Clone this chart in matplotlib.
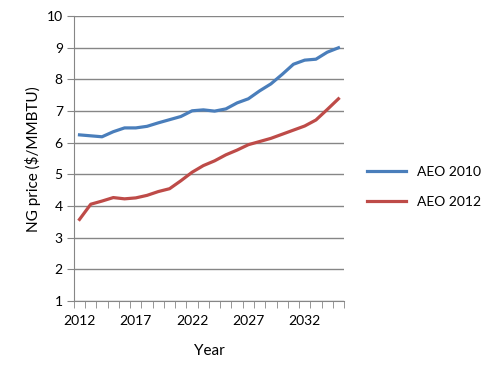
import matplotlib
matplotlib.use("Agg")
import matplotlib.pyplot as plt
import numpy as np

# Data
years = list(range(2012, 2036))
aeo_2010 = [6.25, 6.22, 6.19, 6.35, 6.47, 6.47, 6.52, 6.63, 6.73, 6.83, 7.01, 7.04,
            7.00, 7.07, 7.26, 7.39, 7.64, 7.86, 8.16, 8.48, 8.61, 8.64, 8.86, 9.00]
aeo_2012 = [3.58, 4.06, 4.16, 4.27, 4.23, 4.26, 4.34, 4.46, 4.55, 4.80, 5.07, 5.28,
            5.43, 5.62, 5.77, 5.94, 6.04, 6.14, 6.27, 6.40, 6.53, 6.72, 7.05, 7.39]
label_years = [2012, 2017, 2022, 2027, 2032]

plt.rcParams['font.family'] = ['Lato', 'DejaVu Sans']

fig = plt.figure(figsize=(4.86, 3.75), dpi=100)
ax = fig.add_axes([0.152, 0.197, 0.556, 0.76])

x = np.arange(len(years))
ax.plot(x, aeo_2010, color='#4A7EBB', linewidth=2.3, label='AEO 2010')
ax.plot(x, aeo_2012, color='#BE4B48', linewidth=2.3, label='AEO 2012')

ax.set_xlim(-0.5, len(years) - 0.5)
ax.set_ylim(1, 10)
ax.set_yticks(range(1, 11))
ax.yaxis.grid(True, color='#868686', linewidth=1)
ax.set_axisbelow(True)

ax.set_xticks([years.index(y) for y in label_years])
ax.set_xticklabels([str(y) for y in label_years])
ax.set_xticks(np.arange(-0.5, len(years), 1), minor=True)
ax.tick_params(axis='x', which='major', length=0, pad=10, labelsize=10)
ax.tick_params(axis='x', which='minor', length=5, color='#868686', direction='out')
ax.tick_params(axis='y', length=5, color='#868686', labelsize=10, pad=3)

for side in ['top', 'right']:
    ax.spines[side].set_visible(False)
for side in ['left', 'bottom']:
    ax.spines[side].set_color('#868686')

ax.set_xlabel('Year', fontsize=11, labelpad=12)
ax.set_ylabel('NG price ($/MMBTU)', fontsize=11, labelpad=4)

ax.legend(loc='center left', bbox_to_anchor=(1.04, 0.40), frameon=False,
          fontsize=10, handlelength=2.8, labelspacing=1.3)

fig.savefig('out.png', dpi=100)
